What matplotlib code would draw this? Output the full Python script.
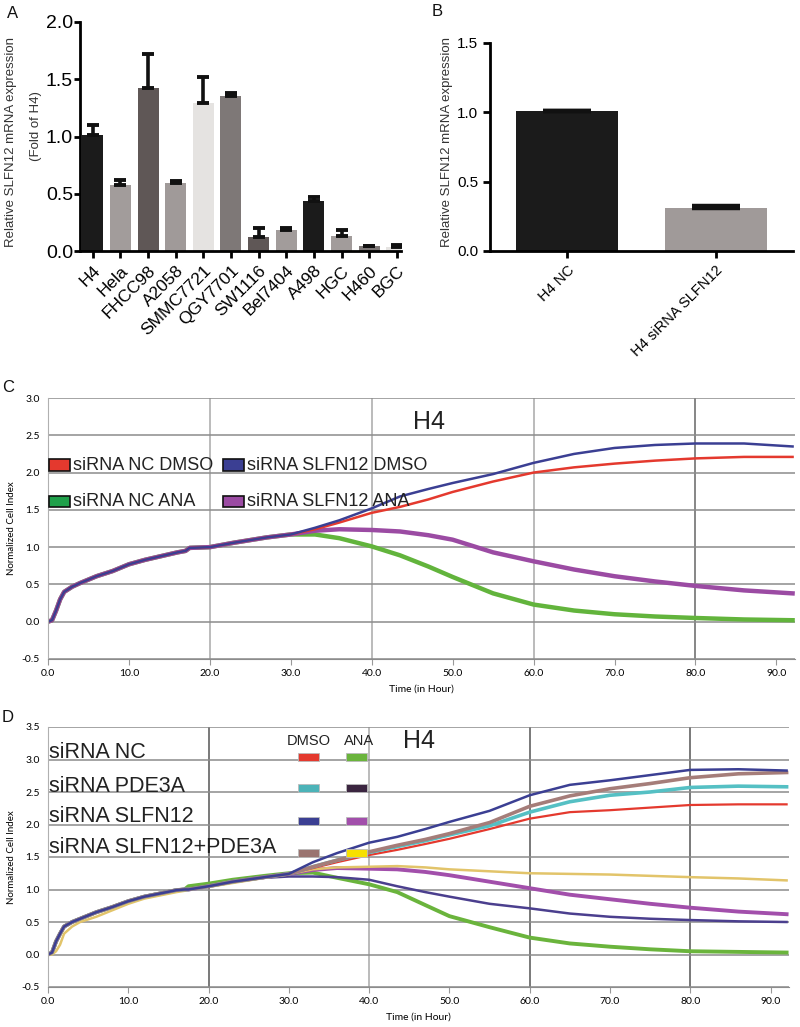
import numpy as np
import matplotlib.pyplot as plt
from matplotlib.patches import Rectangle

plt.rcParams['font.family'] = ['Liberation Sans', 'DejaVu Sans']

# ---- panel A : SLFN12 in cell lines ----
lines_a = ["H4", "Hela", "FHCC98", "A2058", "SMMC7721", "QGY7701",
           "SW1116", "Bel7404", "A498", "HGC", "H460", "BGC"]
expr_a = [1.01, 0.58, 1.42, 0.59, 1.29, 1.35, 0.12, 0.18, 0.44, 0.13, 0.045, 0.035]
err_a = [0.09, 0.04, 0.30, 0.02, 0.23, 0.03, 0.08, 0.02, 0.03, 0.05, 0.0, 0.015]
colors_a = ["#1b1b1b", "#a29c9b", "#5f5756", "#a09a99", "#e5e3e1", "#7e7877",
            "#5f5756", "#a29c9b", "#1b1b1b", "#a29c9b", "#7e7877", "#e5e3e1"]

# ---- panel B : knockdown ----
groups_b = ["H4 NC", "H4 siRNA SLFN12"]
expr_b = [1.01, 0.31]
err_b = [0.0, 0.012]
colors_b = ["#1b1b1b", "#a09a99"]

# ---- panel C : xCELLigence, H4 ----
t_c = [0, 0.5, 1, 1.5, 2, 3, 4, 6, 8, 10, 12, 14, 16, 17, 17.5, 20, 23, 27, 30,
       33, 36, 40, 43.5, 47, 50, 55, 60, 65, 70, 75, 80, 86, 92]
c_early = [0, 0.02, 0.15, 0.30, 0.40, 0.47, 0.52, 0.61, 0.68, 0.77, 0.83, 0.88,
           0.93, 0.95, 0.99, 1.00, 1.06, 1.13, 1.17]
c_nc_dmso = c_early + [1.24, 1.33, 1.46, 1.54, 1.64, 1.74, 1.88, 2.00, 2.07, 2.12, 2.16, 2.19, 2.21, 2.21]
c_sl_dmso = c_early + [1.26, 1.36, 1.52, 1.68, 1.78, 1.86, 1.98, 2.13, 2.25, 2.33, 2.37, 2.39, 2.39, 2.35]
c_nc_ana = c_early + [1.17, 1.12, 1.01, 0.89, 0.74, 0.60, 0.38, 0.23, 0.15, 0.10, 0.07, 0.05, 0.03, 0.02]
c_sl_ana = c_early + [1.22, 1.24, 1.23, 1.21, 1.16, 1.10, 0.93, 0.81, 0.70, 0.61, 0.54, 0.48, 0.42, 0.38]

# ---- panel D : xCELLigence, H4, PDE3A ----
t_d = t_c
d_early = [0, 0.03, 0.20, 0.32, 0.43, 0.50, 0.55, 0.65, 0.73, 0.82, 0.89, 0.94,
           0.99, 1.00, 1.00, 1.05, 1.12, 1.19, 1.24]
d_nc_dmso = d_early + [1.33, 1.42, 1.53, 1.61, 1.70, 1.78, 1.93, 2.09, 2.19, 2.22, 2.26, 2.30, 2.31, 2.31]
d_nc_ana = (d_early[:14] + [1.05, 1.09, 1.15, 1.21, 1.25]
            + [1.26, 1.18, 1.08, 0.96, 0.76, 0.59, 0.42, 0.26, 0.17, 0.12, 0.08, 0.05, 0.04, 0.03])
d_pd_dmso = d_early + [1.35, 1.45, 1.57, 1.66, 1.75, 1.84, 1.98, 2.19, 2.35, 2.45, 2.50, 2.57, 2.59, 2.58]
d_pd_ana = (d_early[:17] + [1.18, 1.20]
            + [1.20, 1.19, 1.15, 1.05, 0.96, 0.89, 0.78, 0.71, 0.63, 0.58, 0.55, 0.53, 0.51, 0.50])
d_sl_dmso = d_early + [1.42, 1.56, 1.72, 1.81, 1.93, 2.04, 2.21, 2.45, 2.61, 2.68, 2.76, 2.84, 2.85, 2.83]
d_sl_ana = d_early + [1.30, 1.33, 1.32, 1.31, 1.27, 1.22, 1.12, 1.02, 0.92, 0.85, 0.78, 0.72, 0.66, 0.62]
d_both_dmso = d_early + [1.35, 1.45, 1.58, 1.68, 1.77, 1.86, 2.03, 2.28, 2.44, 2.55, 2.63, 2.72, 2.78, 2.80]
d_both_ana = [0, 0.0, 0.05, 0.15, 0.32, 0.43, 0.50, 0.58, 0.68, 0.78, 0.86, 0.91, 0.96, 0.98, 1.00,
              1.04, 1.10, 1.18, 1.24,
              1.31, 1.34, 1.35, 1.36, 1.34, 1.31, 1.28, 1.25, 1.24, 1.23, 1.21, 1.19, 1.17, 1.14]

W, H = 800, 1027
fig = plt.figure(figsize=(W / 100, H / 100), dpi=100)


def box(l, t, r, b):
    return [l / W, 1 - b / H, (r - l) / W, (b - t) / H]


def prism(ax):
    for s in ["top", "right"]:
        ax.spines[s].set_visible(False)
    for s in ["left", "bottom"]:
        ax.spines[s].set_linewidth(2.0)
    ax.tick_params(width=2.0, length=5, direction="out")


# A
axA = fig.add_axes(box(80, 22, 401, 251))
xa = np.arange(len(lines_a))
axA.bar(xa, expr_a, width=0.76, color=colors_a)
axA.errorbar(xa, expr_a, yerr=[np.zeros(len(err_a)), err_a], fmt="none",
             ecolor="#111111", elinewidth=2.6, capsize=4.5, capthick=2.8)
axA.set_xlim(-0.46, 11.15)
axA.set_ylim(0, 2.0)
axA.set_yticks([0, 0.5, 1.0, 1.5, 2.0])
axA.set_yticklabels(["0.0", "0.5", "1.0", "1.5", "2.0"], fontsize=14)
axA.set_xticks(xa)
axA.set_xticklabels(lines_a, rotation=45, ha="right", rotation_mode="anchor", fontsize=12.5)
prism(axA)
axA.tick_params(axis="y", length=4, pad=1)
fig.text(11 / W, 1 - 142 / H, "Relative SLFN12 mRNA expression", rotation=90,
         ha="center", va="center", fontsize=9.5, color="#333333")
fig.text(36 / W, 1 - 126 / H, "(Fold of H4)", rotation=90,
         ha="center", va="center", fontsize=9.5, color="#333333")

# B
axB = fig.add_axes(box(490, 43, 793, 251))
xb = np.arange(len(groups_b))
axB.bar(xb, expr_b, width=0.69, color=colors_b)
axB.errorbar(xb, expr_b, yerr=[[0, 0], err_b], fmt="none", ecolor="#111111",
             elinewidth=2.0, capsize=17, capthick=3.2)
axB.set_xlim(-0.52, 1.52)
axB.set_ylim(0, 1.5)
axB.set_yticks([0, 0.5, 1.0, 1.5])
axB.set_yticklabels(["0.0", "0.5", "1.0", "1.5"], fontsize=11)
axB.set_xticks(xb)
axB.set_xticklabels(groups_b, rotation=45, ha="right", rotation_mode="anchor", fontsize=10.5)
prism(axB)
fig.text(447 / W, 1 - 142 / H, "Relative SLFN12 mRNA expression", rotation=90,
         ha="center", va="center", fontsize=9.5, color="#333333")


def rtca(ax, ymax, vcols):
    ax.set_xlim(0, 92.3)
    ax.set_ylim(-0.5, ymax)
    ax.set_yticks(np.arange(-0.5, ymax + 0.01, 0.5))
    ax.set_yticklabels(["%.1f" % v for v in np.arange(-0.5, ymax + 0.01, 0.5)],
                       fontsize=7.5, family="Lato")
    ax.set_xticks(np.arange(0, 91, 10))
    ax.set_xticklabels(["%.1f" % v for v in np.arange(0, 91, 10)],
                       fontsize=7.5, family="Lato")
    ax.tick_params(axis="y", length=0, pad=6)
    ax.tick_params(axis="x", length=4, color="#999999", pad=3)
    ax.yaxis.grid(True, color="#8c8c8c", lw=1.1)
    ax.set_axisbelow(True)
    for xv, cc in zip([20, 40, 60, 80], vcols):
        ax.axvline(xv, color=cc, lw=1.1, zorder=0.5)
    for s in ["top", "right"]:
        ax.spines[s].set_visible(False)
    ax.spines["left"].set_color("#b0b0b0")
    ax.spines["bottom"].set_color("#8c8c8c")
    ax.set_ylabel("Normalized Cell Index", fontsize=7, family="Lato", labelpad=4)
    ax.set_xlabel("Time (in Hour)", fontsize=7.5, family="Lato", labelpad=5)


# C
axC = fig.add_axes(box(48, 398, 795, 659))
rtca(axC, 3.0, ["#a8a8a8", "#a8a8a8", "#a8a8a8", "#666666"])
axC.plot(t_c, c_nc_ana, color="#62b43c", lw=3.2)
axC.plot(t_c, c_sl_ana, color="#9b4ba3", lw=3.2)
axC.plot(t_c, c_nc_dmso, color="#e4392e", lw=1.8)
axC.plot(t_c, c_sl_dmso, color="#3b3f93", lw=1.8)
axC.text(0.489, 0.908, "H4", transform=axC.transAxes, fontsize=18, va="center", color="#222222")
leg_c = [("siRNA NC DMSO", "#e4392e", 0.0, 0.743), ("siRNA SLFN12 DMSO", "#3b3f93", 0.233, 0.743),
         ("siRNA NC ANA", "#1fa04a", 0.0, 0.603), ("siRNA SLFN12 ANA", "#9b4ba3", 0.233, 0.603)]
for lab, col, lx, ly in leg_c:
    axC.add_patch(Rectangle((lx + 0.001, ly - 0.022), 0.029, 0.044, transform=axC.transAxes,
                            facecolor=col, edgecolor="#111111", lw=1.2, zorder=5))
    axC.text(lx + 0.034, ly, lab, transform=axC.transAxes, fontsize=13,
             va="center", color="#222222", zorder=5)

# D
axD = fig.add_axes(box(48, 727, 789, 987))
rtca(axD, 3.5, ["#555555", "#a8a8a8", "#555555", "#555555"])
axD.plot(t_d, d_nc_ana, color="#6ab43c", lw=2.8)
axD.plot(t_d, d_pd_ana, color="#4b3f8e", lw=1.8)
axD.plot(t_d, d_sl_ana, color="#a24fab", lw=2.8)
axD.plot(t_d, d_both_ana, color="#e2c46a", lw=1.8)
axD.plot(t_d, d_nc_dmso, color="#e4392e", lw=1.6)
axD.plot(t_d, d_pd_dmso, color="#55c0c4", lw=2.6)
axD.plot(t_d, d_both_dmso, color="#a57d79", lw=2.6)
axD.plot(t_d, d_sl_dmso, color="#3b3f93", lw=1.8)
axD.text(0.479, 0.946, "H4", transform=axD.transAxes, fontsize=18, va="center", color="#222222")
axD.text(0.352, 0.946, "DMSO", transform=axD.transAxes, fontsize=10.5, ha="center", va="center",
         color="#222222")
axD.text(0.420, 0.946, "ANA", transform=axD.transAxes, fontsize=10.5, ha="center", va="center",
         color="#222222")
leg_d = [("siRNA NC", "#e4392e", "#6ab43c", 0.900, 0.885),
         ("siRNA PDE3A", "#4cb3b8", "#3b2540", 0.773, 0.765),
         ("siRNA SLFN12", "#3b3f93", "#a24fab", 0.654, 0.638),
         ("siRNA SLFN12+PDE3A", "#9a7470", "#f7e000", 0.535, 0.515)]
for lab, c1, c2, ty, by in leg_d:
    axD.text(0.001, ty, lab, transform=axD.transAxes, fontsize=15.5, va="center",
             color="#222222", zorder=5)
    axD.add_patch(Rectangle((0.337, by - 0.016), 0.029, 0.032, transform=axD.transAxes,
                            facecolor=c1, edgecolor="#bbbbbb", lw=0.6, zorder=5))
    axD.add_patch(Rectangle((0.402, by - 0.016), 0.029, 0.032, transform=axD.transAxes,
                            facecolor=c2, edgecolor="#bbbbbb", lw=0.6, zorder=5))

# panel letters
for lt, x, y in [("A", 13, 13), ("B", 437, 12), ("C", 8, 387), ("D", 8, 718)]:
    fig.text(x / W, 1 - y / H, lt, fontsize=12, ha="center", va="center", color="#111111")

fig.savefig("out.png", dpi=100, facecolor="white")
